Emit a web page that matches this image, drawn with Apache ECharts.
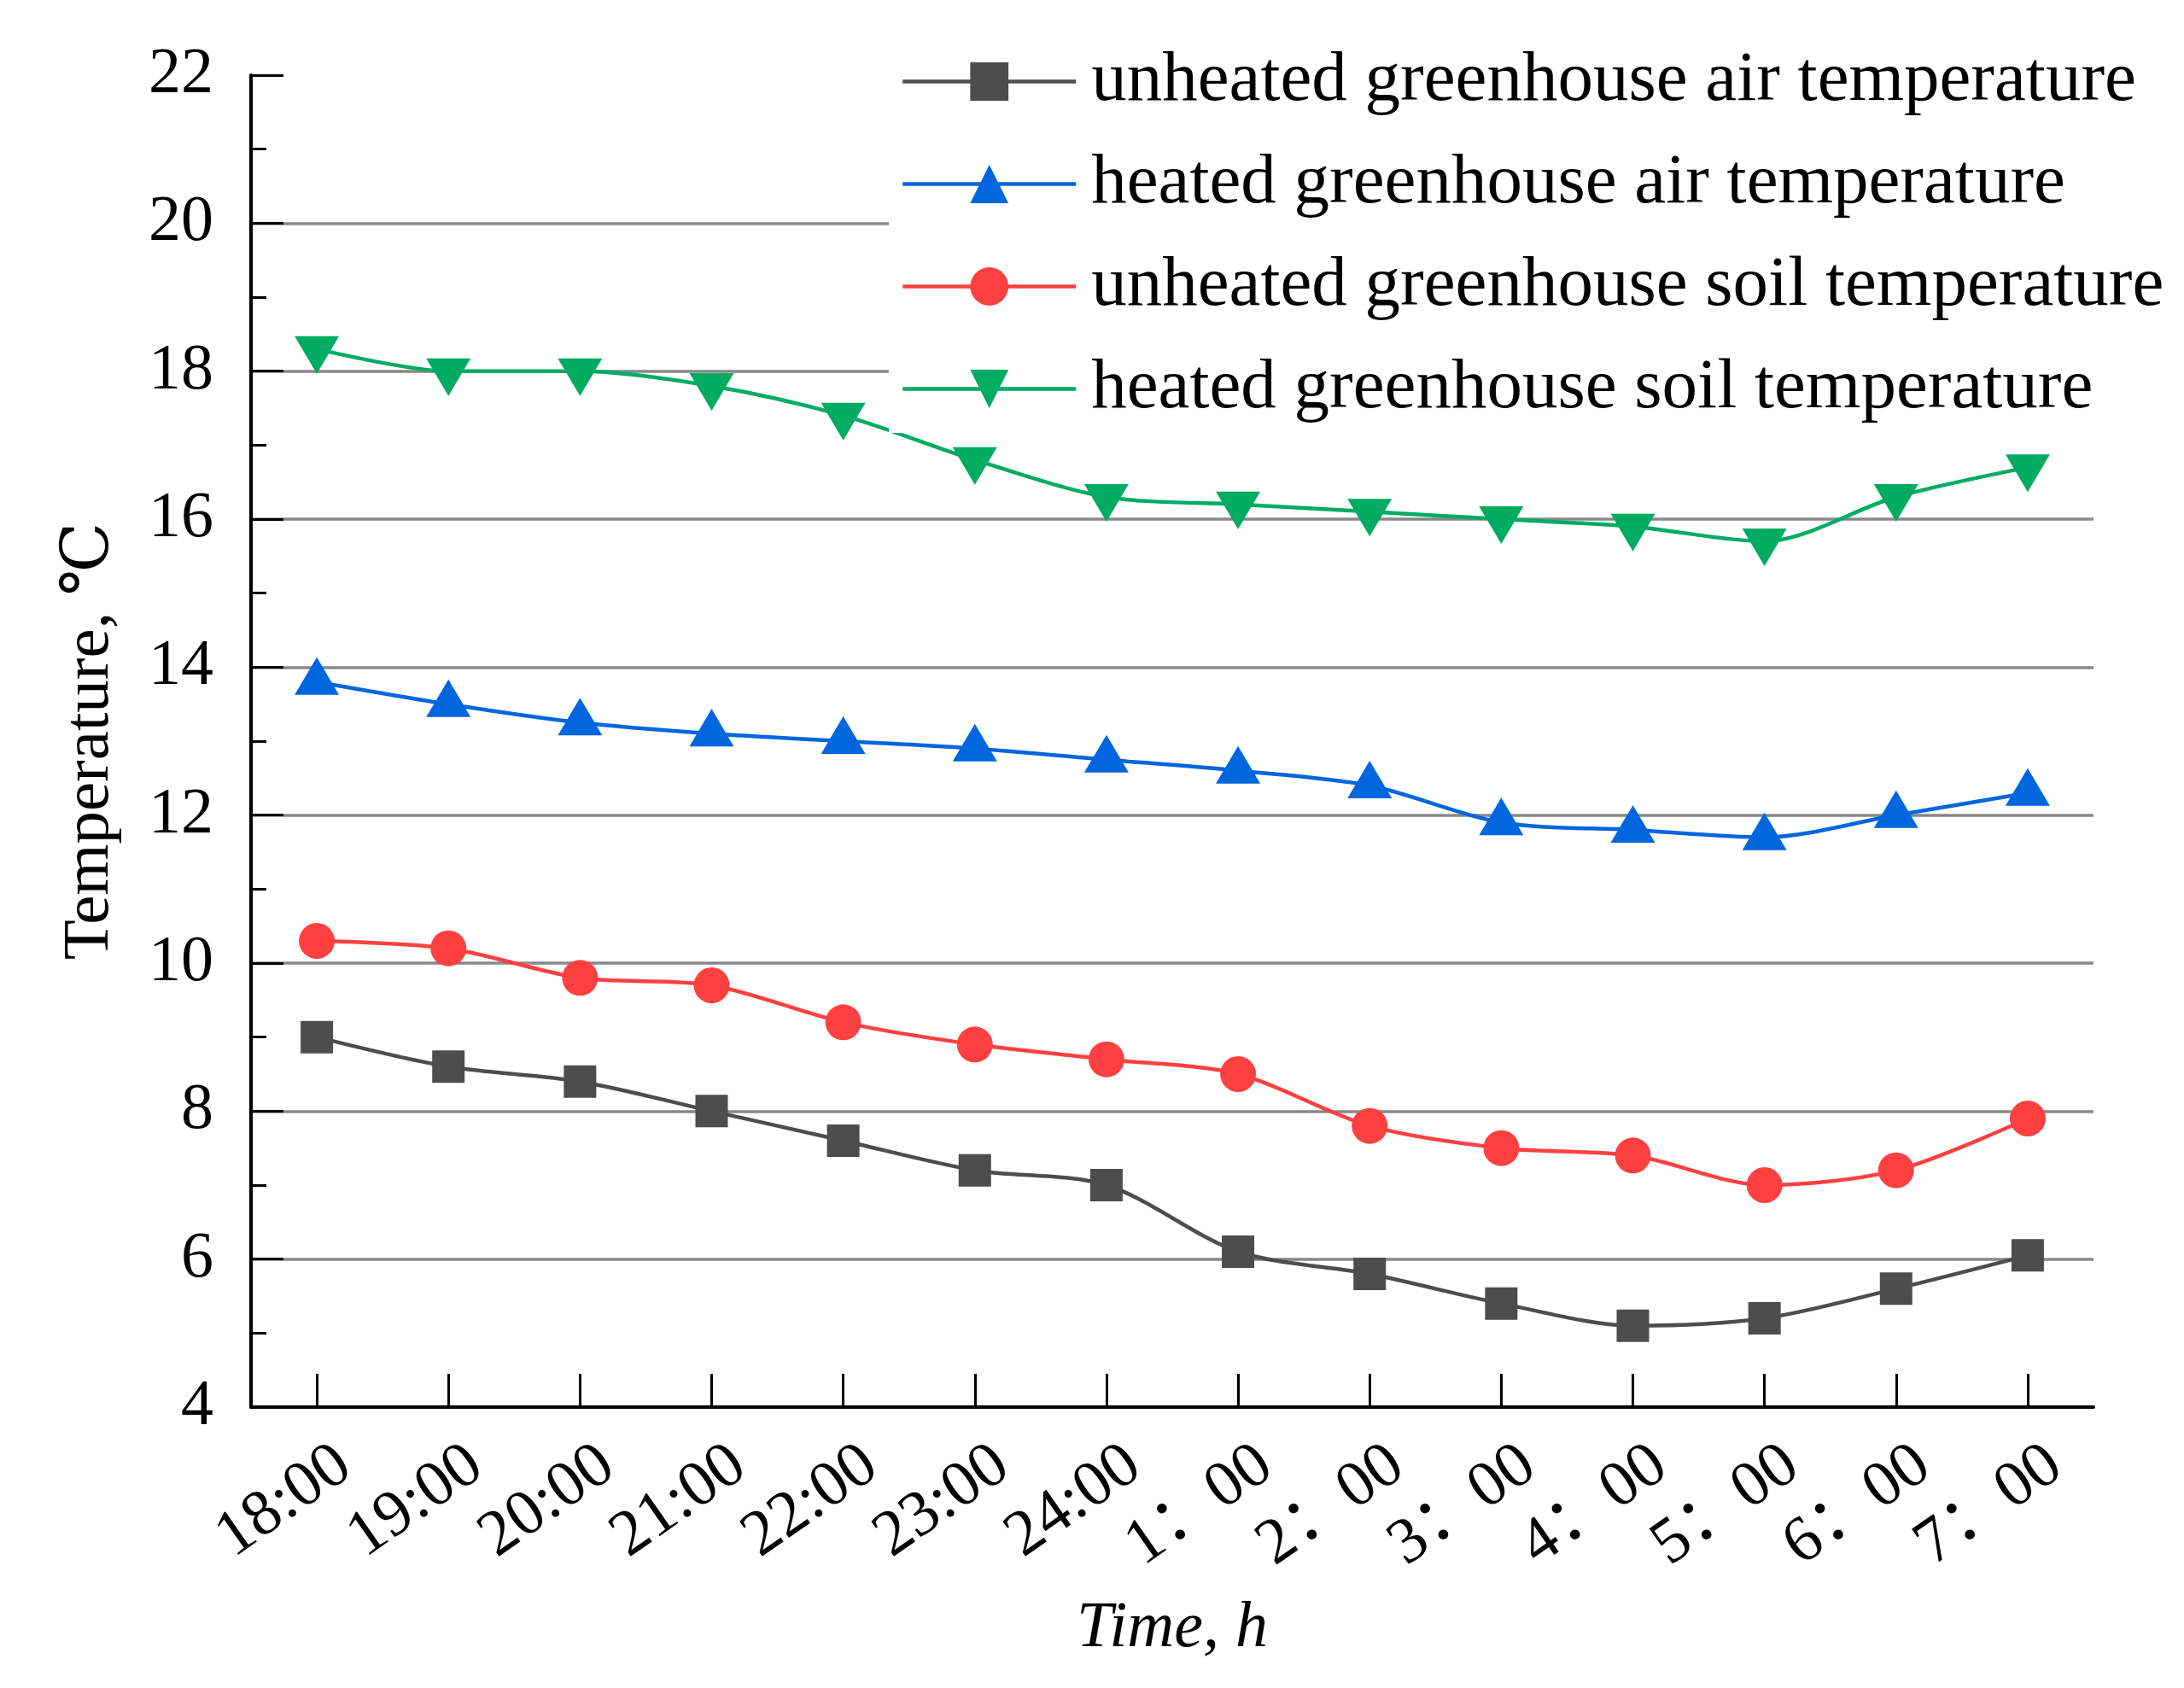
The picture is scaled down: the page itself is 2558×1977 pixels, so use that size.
<!DOCTYPE html>
<html>
<head>
<meta charset="utf-8">
<script src="https://cdn.jsdelivr.net/npm/echarts@6/dist/echarts.min.js"></script>
<style>
html,body{margin:0;padding:0;background:#fff;}
#chart{width:2558px;height:1977px;}
</style>
</head>
<body>
<div id="chart"></div>
<script>
var categories = ['18:00','19:00','20:00','21:00','22:00','23:00','24:00','1：00','2：00','3：00','4：00','5：00','6：00','7：00'];
var seriesNames = ['unheated greenhouse air temperature','heated greenhouse air temperature','unheated greenhouse soil temperature','heated greenhouse soil temperature'];
var unheatedAir = [9.0, 8.6, 8.4, 8.0, 7.6, 7.2, 7.0, 6.1, 5.8, 5.4, 5.1, 5.2, 5.6, 6.05];
var heatedAir = [13.8, 13.5, 13.25, 13.1, 13.0, 12.9, 12.75, 12.6, 12.4, 11.9, 11.8, 11.7, 12.0, 12.3];
var unheatedSoil = [10.3, 10.2, 9.8, 9.7, 9.2, 8.9, 8.7, 8.5, 7.8, 7.5, 7.4, 7.0, 7.2, 7.9];
var heatedSoil = [18.3, 18.0, 18.0, 17.8, 17.4, 16.8, 16.3, 16.2, 16.1, 16.0, 15.9, 15.7, 16.3, 16.7];
var yTicks = [4, 6, 8, 10, 12, 14, 16, 18, 20, 22];

var FONT = "'Liberation Serif', 'DejaVu Serif', 'Noto Sans CJK SC', serif";
var chart = echarts.init(document.getElementById('chart'), null, {renderer: 'canvas'});

function mkSeries(name, data, color, symbol, size, rotate, offset) {
  return {
    name: name, type: 'line', data: data,
    smooth: 0.3,
    symbol: symbol, symbolSize: size, symbolRotate: rotate, symbolOffset: offset,
    showSymbol: true,
    lineStyle: {color: color, width: 4.5},
    itemStyle: {color: color, borderWidth: 0},
    emphasis: {disabled: true},
    animation: false
  };
}

var gridColors = yTicks.map(function (v, i) { return i === yTicks.length - 1 ? 'rgba(0,0,0,0)' : '#888888'; });

chart.setOption({
  backgroundColor: '#ffffff',
  animation: false,
  grid: {left: 294, right: 106, top: 88, bottom: 329, containLabel: false},
  legend: {
    orient: 'vertical',
    left: 1041, top: 38,
    padding: [16, 20, 10, 14],
    backgroundColor: '#ffffff',
    itemWidth: 203, itemHeight: 56, itemGap: 37,
    lineStyle: {width: 4.5},
    textStyle: {fontFamily: FONT, fontSize: 83, color: '#000', padding: [0, 0, 0, 13]},
    data: seriesNames
  },
  xAxis: {
    type: 'category', data: categories, boundaryGap: true,
    axisLine: {lineStyle: {color: '#000', width: 4}},
    axisTick: {show: true, alignWithLabel: true, inside: true, length: 39, lineStyle: {color: '#000', width: 3}},
    axisLabel: {interval: 0, rotate: 35, margin: 84, padding: [0, -40, 0, 0], fontFamily: FONT, fontSize: 76, color: '#000'},
    splitLine: {show: false},
    name: 'Time, h', nameLocation: 'middle', nameGap: 222,
    nameTextStyle: {fontFamily: FONT, fontSize: 76, fontStyle: 'italic', color: '#000'}
  },
  yAxis: {
    type: 'value', min: 4, max: 22, interval: 2,
    axisLine: {show: true, lineStyle: {color: '#000', width: 4}},
    axisTick: {show: true, inside: true, length: 38, lineStyle: {color: '#000', width: 3}},
    minorTick: {show: true, splitNumber: 2, length: 18, lineStyle: {color: '#000', width: 3}},
    axisLabel: {margin: 44, fontFamily: FONT, fontSize: 76, color: '#000'},
    splitLine: {show: true, lineStyle: {color: gridColors, width: 3.5}},
    name: 'Temperature, ℃', nameLocation: 'middle', nameGap: 150, nameRotate: 90,
    nameTextStyle: {fontFamily: FONT, fontSize: 77, color: '#000'}
  },
  series: [
    mkSeries(seriesNames[0], unheatedAir, '#4d4d4d', 'rect', 38, 0, [0, 0]),
    mkSeries(seriesNames[1], heatedAir, '#0066dd', 'triangle', [52, 44], 0, [0, -7]),
    mkSeries(seriesNames[2], unheatedSoil, '#ff4040', 'circle', 42, 0, [0, 0]),
    mkSeries(seriesNames[3], heatedSoil, '#00ab62', 'triangle', [52, 44], 180, [0, 7])
  ]
});
</script>
</body>
</html>
